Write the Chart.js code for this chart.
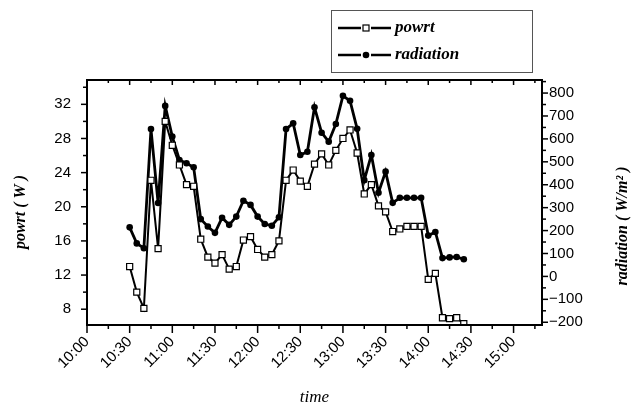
<!DOCTYPE html>
<html>
<head>
<meta charset="utf-8">
<script src="https://cdn.jsdelivr.net/npm/chart.js@4/dist/chart.umd.min.js"></script>
<style>
    html, body { margin: 0; padding: 0; background: #fff; }
    canvas { display: block; }
</style>
</head>
<body>
<canvas id="chart" width="633" height="408"></canvas>
<script>
// readings every 5 minutes
const times = [
    '10:30', '10:35', '10:40', '10:45', '10:50', '10:55', '11:00', '11:05', '11:10', '11:15',
    '11:20', '11:25', '11:30', '11:35', '11:40', '11:45', '11:50', '11:55', '12:00', '12:05',
    '12:10', '12:15', '12:20', '12:25', '12:30', '12:35', '12:40', '12:45', '12:50', '12:55',
    '13:00', '13:05', '13:10', '13:15', '13:20', '13:25', '13:30', '13:35', '13:40', '13:45',
    '13:50', '13:55', '14:00', '14:05', '14:10', '14:15', '14:20', '14:25'
];
const powrt = [
    13.0, 10.0, 8.1, 23.1, 15.1, 30.0, 27.2, 24.9, 22.6, 22.4,
    16.2, 14.1, 13.4, 14.4, 12.7, 13.0, 16.1, 16.5, 15.0, 14.1,
    14.4, 16.0, 23.1, 24.3, 23.0, 22.4, 25.0, 26.2, 24.9, 26.6,
    28.0, 29.0, 26.3, 21.5, 22.6, 20.1, 19.4, 17.1, 17.4, 17.7,
    17.7, 17.7, 11.5, 12.2, 7.0, 6.9, 7.0, 6.3
];
const radiation = [
    214, 144, 123, 643, 320, 744, 610, 508, 494, 476,
    250, 218, 190, 256, 225, 261, 330, 312, 261, 229,
    221, 258, 643, 668, 530, 544, 738, 627, 588, 665,
    788, 766, 644, 420, 530, 365, 457, 321, 343, 343,
    343, 343, 178, 194, 80, 83, 85, 75
];
const xTickLabels = ['10:00', '10:30', '11:00', '11:30', '12:00', '12:30', '13:00', '13:30', '14:00', '14:30', '15:00'];
const powrtTicks = [8, 12, 16, 20, 24, 28, 32];
const radiationTicks = [-200, -100, 0, 100, 200, 300, 400, 500, 600, 700, 800];

const toMin = s => {
    const [h, m] = s.split(':').map(Number);
    return (h - 10) * 60 + m;
};
const toLabel = v => {
    const h = 10 + Math.floor(v / 60);
    const m = v % 60;
    return h + ':' + (m < 10 ? '0' + m : m);
};

const TICK_FONT = {family: 'Liberation Sans', size: 15};
const SERIF = 'Liberation Serif';

// frame, tick marks, axis titles and the boxed legend
const decorations = {
    id: 'decorations',
    afterDraw(chart) {
        const {ctx, chartArea: a, scales} = chart;
        const seg = (x1, y1, x2, y2) => {
            ctx.beginPath();
            ctx.moveTo(x1, y1);
            ctx.lineTo(x2, y2);
            ctx.stroke();
        };
        ctx.save();
        ctx.strokeStyle = '#000';
        ctx.lineWidth = 2;
        ctx.strokeRect(a.left, a.top, a.right - a.left, a.bottom - a.top);

        ctx.lineWidth = 1.5;
        for (let m = 0; m <= scales.x.max; m += 15) {
            const x = scales.x.getPixelForValue(m);
            const major = m % 30 === 0;
            seg(x, a.bottom, x, a.bottom + (major ? 8 : 4));
            seg(x, a.top, x, a.top + (major ? 5 : 3));
        }
        for (let v = 8; v <= scales.y.max; v += 2) {
            const y = scales.y.getPixelForValue(v);
            seg(a.left, y, a.left - (v % 4 === 0 ? 6 : 4), y);
        }
        for (let v = -200; v <= scales.y1.max; v += 50) {
            const y = scales.y1.getPixelForValue(v);
            seg(a.right, y, a.right + (v % 100 === 0 ? 6 : 4), y);
        }

        // axis titles
        ctx.fillStyle = '#000';
        ctx.textAlign = 'center';
        ctx.textBaseline = 'middle';
        ctx.font = 'bold italic 16px ' + SERIF;
        ctx.save();
        ctx.translate(21, 212);
        ctx.rotate(-Math.PI / 2);
        ctx.fillText('powrt ( W )', 0, 0);
        ctx.restore();
        ctx.save();
        ctx.translate(623, 226);
        ctx.rotate(-Math.PI / 2);
        ctx.fillText('radiation ( W/m² )', 0, 0);
        ctx.restore();
        ctx.font = 'italic 17px ' + SERIF;
        ctx.fillText('time', (a.left + a.right) / 2, 398);

        // legend box
        ctx.lineWidth = 1;
        ctx.strokeStyle = '#555';
        ctx.strokeRect(331.5, 10.5, 201, 62);
        ctx.strokeStyle = '#000';
        const rows = [
            {text: 'powrt', y: 28, square: true},
            {text: 'radiation', y: 55, square: false}
        ];
        rows.forEach(r => {
            ctx.lineWidth = 2.5;
            seg(338, r.y, 361, r.y);
            seg(371, r.y, 391, r.y);
            ctx.lineWidth = 1.2;
            if (r.square) {
                ctx.fillStyle = '#fff';
                ctx.fillRect(363, r.y - 3, 6, 6);
                ctx.strokeRect(363, r.y - 3, 6, 6);
            } else {
                ctx.fillStyle = '#000';
                ctx.beginPath();
                ctx.arc(366, r.y, 3.3, 0, Math.PI * 2);
                ctx.fill();
            }
            ctx.fillStyle = '#000';
            ctx.textAlign = 'left';
            ctx.font = 'bold italic 17px ' + SERIF;
            ctx.fillText(r.text, 395, r.y);
        });
        ctx.restore();
    }
};

const xs = times.map(toMin);

new Chart(document.getElementById('chart'), {
    type: 'line',
    data: {
        datasets: [{
            label: 'powrt',
            data: xs.map((x, i) => ({x: x, y: powrt[i]})),
            yAxisID: 'y',
            borderColor: '#000',
            borderWidth: 2,
            pointStyle: 'rect',
            pointRadius: 4.3,
            pointBackgroundColor: '#fff',
            pointBorderColor: '#000',
            pointBorderWidth: 1.2,
            tension: 0
        }, {
            label: 'radiation',
            data: xs.map((x, i) => ({x: x, y: radiation[i]})),
            yAxisID: 'y1',
            borderColor: '#000',
            borderWidth: 2.8,
            pointStyle: 'circle',
            pointRadius: 3.3,
            pointBackgroundColor: '#000',
            pointBorderColor: '#000',
            pointBorderWidth: 0,
            tension: 0
        }]
    },
    options: {
        responsive: false,
        devicePixelRatio: 1,
        animation: false,
        layout: {padding: {top: 80}},
        plugins: {
            legend: {display: false},
            tooltip: {enabled: false}
        },
        scales: {
            x: {
                type: 'linear',
                position: 'bottom',
                min: 0,
                max: 320,
                grid: {display: false, drawTicks: false},
                border: {display: false},
                afterBuildTicks: axis => {
                    axis.ticks = xTickLabels.map(s => ({value: toMin(s)}));
                },
                afterFit: axis => { axis.height = 83; },
                ticks: {
                    autoSkip: false,
                    minRotation: 45,
                    maxRotation: 45,
                    padding: 8,
                    color: '#000',
                    font: TICK_FONT,
                    callback: v => toLabel(v)
                }
            },
            y: {
                position: 'left',
                min: 6.15,
                max: 34.85,
                grid: {display: false, drawTicks: false},
                border: {display: false},
                afterBuildTicks: axis => {
                    axis.ticks = powrtTicks.map(v => ({value: v}));
                },
                afterFit: axis => { axis.width = 87; },
                ticks: {padding: 16, color: '#000', font: TICK_FONT}
            },
            y1: {
                position: 'right',
                min: -212,
                max: 857,
                grid: {display: false, drawTicks: false},
                border: {display: false},
                afterBuildTicks: axis => {
                    axis.ticks = radiationTicks.map(v => ({value: v}));
                },
                afterFit: axis => { axis.width = 91; },
                ticks: {
                    padding: 7,
                    color: '#000',
                    font: TICK_FONT,
                    callback: v => String(v).replace('-', '\u2212')
                }
            }
        }
    },
    plugins: [decorations]
});
</script>
</body>
</html>
